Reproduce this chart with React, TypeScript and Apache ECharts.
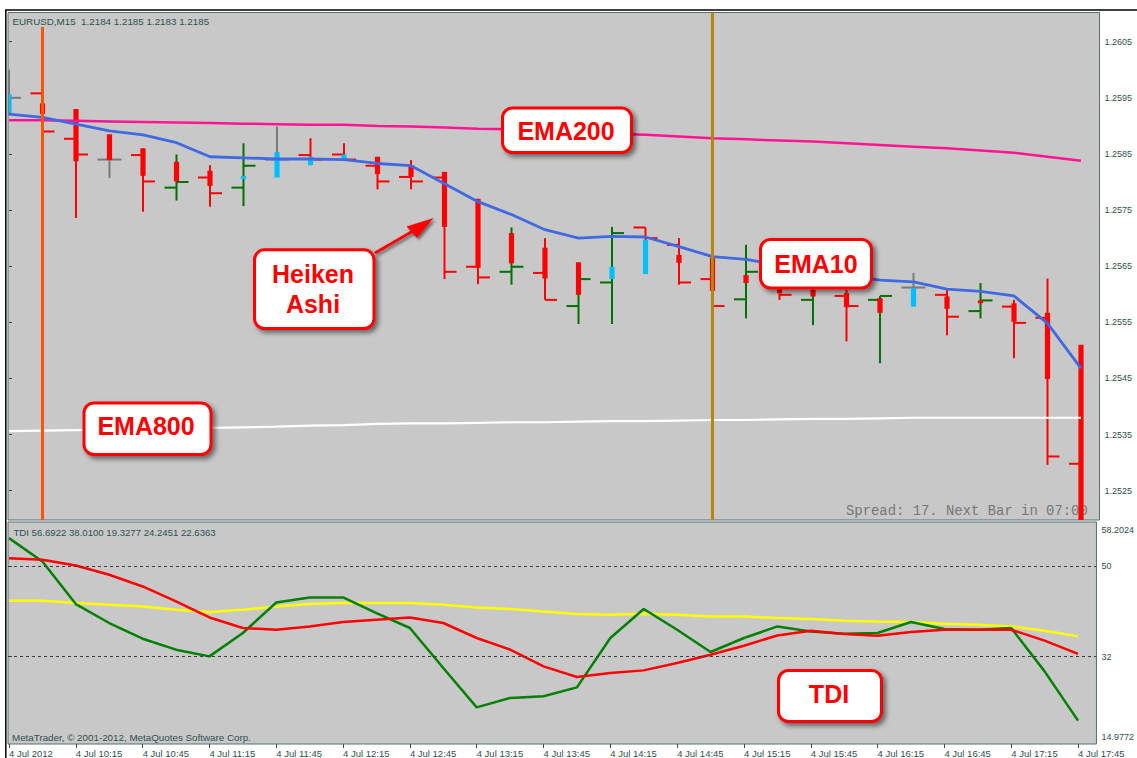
import React, { useEffect, useRef } from 'react';
import * as echarts from 'echarts';

// ---- categories (15-minute bars, 4 Jul 2012) ----
const times = [
  '09:45', '10:00', '10:15', '10:30', '10:45', '11:00', '11:15', '11:30', '11:45', '12:00',
  '12:15', '12:30', '12:45', '13:00', '13:15', '13:30', '13:45', '14:00', '14:15', '14:30',
  '14:45', '15:00', '15:15', '15:30', '15:45', '16:00', '16:15', '16:30', '16:45', '17:00',
  '17:15', '17:30', '17:45',
];

// ---- OHLC bars ----
const barOpen = [
  1.25950, 1.25958, 1.25877, 1.25840, 1.25848, 1.25790, 1.25808, 1.25790, 1.25840, 1.25848,
  1.25849, 1.25829, 1.25809, 1.25808, 1.25649, 1.25640, 1.25638, 1.25579, 1.25621, 1.25719,
  1.25688, 1.25627, 1.25591, 1.25617, 1.25590, 1.25597, 1.25590, 1.25612, 1.25599, 1.25570,
  1.25578, 1.25558, 1.25298,
];
const barHigh = [
  1.26000, 1.25958, 1.25930, 1.25860, 1.25860, 1.25849, 1.25830, 1.25869, 1.25899, 1.25878,
  1.25869, 1.25845, 1.25839, 1.25818, 1.25770, 1.25719, 1.25700, 1.25640, 1.25720, 1.25719,
  1.25700, 1.25665, 1.25688, 1.25629, 1.25625, 1.25608, 1.25597, 1.25638, 1.25609, 1.25620,
  1.25590, 1.25628, 1.25298,
];
const barLow = [
  1.25919, 1.25876, 1.25736, 1.25807, 1.25747, 1.25767, 1.25756, 1.25757, 1.25830, 1.25830,
  1.25839, 1.25787, 1.25787, 1.25627, 1.25618, 1.25617, 1.25590, 1.25547, 1.25547, 1.25643,
  1.25617, 1.25577, 1.25557, 1.25590, 1.25545, 1.25516, 1.25477, 1.25590, 1.25527, 1.25557,
  1.25486, 1.25296, 1.25162,
];
const barClose = [
  1.25950, 1.25890, 1.25849, 1.25840, 1.25801, 1.25800, 1.25780, 1.25829, 1.25840, 1.25840,
  1.25840, 1.25801, 1.25801, 1.25640, 1.25630, 1.25649, 1.25590, 1.25627, 1.25709, 1.25700,
  1.25621, 1.25579, 1.25640, 1.25599, 1.25614, 1.25579, 1.25597, 1.25612, 1.25560, 1.25589,
  1.25549, 1.25311, 1.25171,
];

// ---- Heiken Ashi bodies ----
const haOpen = [
  1.25923, 1.25940, 1.25930, 1.25885, 1.25860, 1.25836, 1.25820, 1.25805, 1.25808, 1.25830,
  1.25840, 1.25845, 1.25830, 1.25818, 1.25770, 1.25709, 1.25683, 1.25657, 1.25627, 1.25636,
  1.25670, 1.25665, 1.25634, 1.25620, 1.25608, 1.25602, 1.25593, 1.25578, 1.25596, 1.25589,
  1.25584, 1.25567, 1.25510,
];
const haClose = [
  1.25957, 1.25921, 1.25837, 1.25839, 1.25811, 1.25801, 1.25793, 1.25811, 1.25853, 1.25845,
  1.25849, 1.25814, 1.25809, 1.25720, 1.25647, 1.25655, 1.25628, 1.25599, 1.25649, 1.25697,
  1.25656, 1.25606, 1.25620, 1.25602, 1.25596, 1.25577, 1.25567, 1.25611, 1.25574, 1.25584,
  1.25551, 1.25449, 1.25162,
];

// ---- moving averages ----
const ema10 = [
  1.25921, 1.25915, 1.25903, 1.25891, 1.25884, 1.25870, 1.25845, 1.25843, 1.25841, 1.25841,
  1.25840, 1.25833, 1.25829, 1.25797, 1.25765, 1.25742, 1.25715, 1.25700, 1.25703, 1.25702,
  1.25685, 1.25667, 1.25662, 1.25652, 1.25643, 1.25633, 1.25625, 1.25622, 1.25609, 1.25605,
  1.25597, 1.25548, 1.25468,
];
const ema200 = [
  1.25910, 1.25910, 1.25909, 1.25908, 1.25907, 1.25906, 1.25905, 1.25904, 1.25903, 1.25902,
  1.25902, 1.25900, 1.25899, 1.25897, 1.25895, 1.25894, 1.25892, 1.25889, 1.25886, 1.25884,
  1.25881, 1.25878, 1.25876, 1.25874, 1.25872, 1.25869, 1.25866, 1.25863, 1.25860, 1.25856,
  1.25852, 1.25845, 1.25838,
];
const ema800 = [
  1.25356, 1.25357, 1.25358, 1.25359, 1.25360, 1.25361, 1.25362, 1.25363, 1.25364, 1.25366,
  1.25367, 1.25369, 1.25370, 1.25370, 1.25371, 1.25372, 1.25372, 1.25373, 1.25374, 1.25374,
  1.25375, 1.25376, 1.25376, 1.25377, 1.25378, 1.25378, 1.25379, 1.25380, 1.25380, 1.25380,
  1.25380, 1.25380, 1.25380,
];

// ---- TDI ----
const tdiRsi = [
  55.48, 50.85, 42.42, 38.67, 35.56, 33.39, 32.06, 36.69, 42.74, 43.73,
  43.73, 40.64, 37.68, 29.77, 21.97, 23.83, 24.15, 25.93, 35.70, 41.44,
  37.34, 32.93, 35.70, 37.99, 37.01, 36.55, 36.69, 38.86, 37.48, 37.34,
  37.68, 29.09, 19.33,
];
const tdiSignal = [
  51.52, 51.19, 50.06, 48.22, 45.91, 42.94, 39.77, 37.68, 37.34, 37.99,
  38.86, 39.32, 39.77, 38.67, 35.70, 33.39, 30.08, 27.99, 28.78, 29.29,
  30.76, 32.40, 34.18, 36.21, 37.14, 36.49, 36.16, 36.89, 37.34, 37.34,
  37.34, 35.17, 32.54,
];
const tdiBase = [
  43.08, 43.08, 42.62, 42.29, 41.95, 41.30, 40.84, 41.30, 41.95, 42.42,
  42.62, 42.62, 42.62, 42.29, 41.75, 41.44, 40.96, 40.45, 40.31, 40.51,
  40.31, 39.97, 39.97, 39.66, 39.46, 39.12, 38.98, 38.86, 38.53, 38.33,
  37.99, 37.14, 36.02,
];

// ---- axis ticks ----
const priceTicks = [1.2525, 1.2535, 1.2545, 1.2555, 1.2565, 1.2575, 1.2585, 1.2595, 1.2605];
const tdiLabelValues = [14.9772, 32, 50, 58.2024];
const tdiLevels = [50, 32];
const timeTickIdx = [0, 2, 4, 6, 8, 10, 12, 14, 16, 18, 20, 22, 24, 26, 28, 30, 32];
const vLineIdx = [1, 21];

// ---- texts ----
const chartTitle = 'EURUSD,M15  1.2184 1.2185 1.2183 1.2185';
const tdiTitle = 'TDI 56.6922 38.0100 19.3277 24.2451 22.6363';
const copyright = 'MetaTrader, \u00A9 2001-2012, MetaQuotes Software Corp.';
const spreadText = 'Spread: 17. Next Bar in 07:00';

const SLATE = '#2F4F4F';
const BORDER = '#56706f';
const BG = '#C8C8C8';
const SANS = '"Liberation Sans", Arial, sans-serif';
const PRICE_MIN = 1.251978;
const PRICE_MAX = 1.26102;

export default function App() {
  const ref = useRef<HTMLDivElement>(null);

  useEffect(() => {
    if (!ref.current) return;
    const chart = echarts.init(ref.current, null, { renderer: 'svg' });

    const ohlcData = times.map((_, i) => [i, barOpen[i], barHigh[i], barLow[i], barClose[i]]);
    const haData = times.map((_, i) => [i, haOpen[i], haClose[i]]);
    const line = (arr: number[]) => arr.map((v, i) => [i, v]);

    const box = (x: number, y: number, w: number, h: number) => ({
      type: 'rect',
      z: 100,
      shape: { x, y, width: w, height: h, r: 10 },
      style: {
        fill: '#ffffff',
        stroke: '#FF0000',
        lineWidth: 3,
        shadowBlur: 5,
        shadowOffsetX: 3,
        shadowOffsetY: 3,
        shadowColor: 'rgba(0,0,0,0.5)',
      },
    });
    const boxText = (x: number, y: number, text: string) => ({
      type: 'text',
      z: 101,
      x,
      y,
      style: {
        text,
        fill: '#FF0000',
        font: 'bold 25px ' + SANS,
        align: 'center',
        verticalAlign: 'middle',
        textAlign: 'center',
        textVerticalAlign: 'middle',
      },
    });
    const plainText = (x: number, y: number, text: string, font: string, color: string) => ({
      type: 'text',
      z: 1,
      x,
      y,
      style: {
        text,
        fill: color,
        font,
        align: 'left',
        verticalAlign: 'middle',
        textAlign: 'left',
        textVerticalAlign: 'middle',
      },
    });

    const option: any = {
      animation: false,
      backgroundColor: '#ffffff',
      grid: [
        {
          left: 8, top: 12.5, width: 1091.5, height: 507.5,
          show: true, backgroundColor: BG, borderColor: BORDER, borderWidth: 1,
        },
        {
          left: 8, top: 522, width: 1091.5, height: 223,
          show: true, backgroundColor: BG, borderColor: BORDER, borderWidth: 1,
        },
      ],
      xAxis: [
        {
          type: 'value', gridIndex: 0, min: -0.02985, max: 32.552,
          axisLine: { show: false }, axisTick: { show: false },
          axisLabel: { show: false }, splitLine: { show: false },
        },
        {
          type: 'value', gridIndex: 1, min: -0.02985, max: 32.552, position: 'bottom',
          axisLine: { show: false },
          splitLine: { show: false },
          axisTick: {
            show: true, customValues: timeTickIdx, length: 4,
            lineStyle: { color: SLATE, width: 1 },
          },
          axisLabel: {
            show: true, customValues: timeTickIdx, align: 'left', margin: 4,
            fontSize: 9.5, fontFamily: SANS, color: SLATE,
            formatter: (v: number) => {
              const i = Math.round(v);
              return i === 0 ? '4 Jul 2012' : '4 Jul ' + times[i];
            },
          },
        },
      ],
      yAxis: [
        {
          type: 'value', gridIndex: 0, position: 'right', min: PRICE_MIN, max: PRICE_MAX,
          axisLine: { show: false }, splitLine: { show: false },
          axisTick: {
            show: true, customValues: priceTicks, length: 3,
            lineStyle: { color: SLATE, width: 1 },
          },
          axisLabel: {
            show: true, customValues: priceTicks, margin: 5,
            fontSize: 9, fontFamily: SANS, color: SLATE,
            formatter: (v: number) => v.toFixed(4),
          },
        },
        {
          type: 'value', gridIndex: 1, position: 'right', min: 14.708, max: 58.675,
          axisLine: { show: false }, splitLine: { show: false },
          axisTick: {
            show: true, customValues: tdiLevels, length: 3,
            lineStyle: { color: SLATE, width: 1 },
          },
          axisLabel: {
            show: true, customValues: tdiLabelValues, margin: 5,
            fontSize: 9, fontFamily: SANS, color: SLATE,
            formatter: (v: number) => {
              if (v > 58) return '{t|' + v.toFixed(4) + '}';
              if (v < 15) return '{b|' + v.toFixed(4) + '}';
              return String(v);
            },
            rich: {
              t: { padding: [11, 0, 0, 0], fontSize: 9, fontFamily: SANS, color: SLATE },
              b: { padding: [0, 0, 11, 0], fontSize: 9, fontFamily: SANS, color: SLATE },
            },
          },
        },
      ],
      series: [
        {
          name: 'Bars', type: 'custom', xAxisIndex: 0, yAxisIndex: 0,
          data: ohlcData,
          markLine: {
            silent: true, symbol: ['none', 'none'], label: { show: false },
            data: [
              [
                { coord: [vLineIdx[0], 1.26076], lineStyle: { color: '#FF5500', width: 3, type: 'solid' } },
                { coord: [vLineIdx[0], PRICE_MIN] },
              ],
              { xAxis: vLineIdx[1], lineStyle: { color: '#B8860B', width: 3, type: 'solid' } },
            ],
          },
          renderItem: (params: any, api: any) => {
            const k = api.value(0);
            const o = api.value(1);
            const h = api.value(2);
            const l = api.value(3);
            const c = api.value(4);
            const cs = params.coordSys;
            const top = cs.y;
            const bot = cs.y + cs.height;
            const left = cs.x;
            const cl = (y: number) => Math.max(top, Math.min(bot, y));
            const pO = api.coord([k, o]);
            const pH = api.coord([k, h]);
            const pL = api.coord([k, l]);
            const pC = api.coord([k, c]);
            const x = pO[0];
            const color = c > o ? '#007000' : c < o ? '#FF0000' : '#7A7A7A';
            const st = { stroke: color, lineWidth: 2 };
            const children: any[] = [
              { type: 'line', shape: { x1: x, y1: cl(pH[1]), x2: x, y2: cl(pL[1]) }, style: st },
            ];
            if (pO[1] >= top && pO[1] <= bot && x - 12 >= left) {
              children.push({ type: 'line', shape: { x1: x - 12, y1: pO[1], x2: x, y2: pO[1] }, style: st });
            }
            if (pC[1] >= top && pC[1] <= bot) {
              children.push({ type: 'line', shape: { x1: x, y1: pC[1], x2: x + 12, y2: pC[1] }, style: st });
            }
            return { type: 'group', children };
          },
        },
        {
          name: 'HeikenAshi', type: 'custom', xAxisIndex: 0, yAxisIndex: 0,
          data: haData,
          renderItem: (params: any, api: any) => {
            const k = api.value(0);
            const o = api.value(1);
            const c = api.value(2);
            const cs = params.coordSys;
            const top = cs.y;
            const bot = cs.y + cs.height;
            const p1 = api.coord([k, o]);
            const p2 = api.coord([k, c]);
            const y1 = Math.max(top, Math.min(bot, Math.min(p1[1], p2[1])));
            const y2 = Math.max(top, Math.min(bot, Math.max(p1[1], p2[1])));
            const w = 5.2;
            const x1 = Math.max(cs.x + 1, p1[0] - w / 2);
            const x2 = p1[0] + w / 2;
            return {
              type: 'rect',
              shape: { x: x1, y: y1, width: x2 - x1, height: Math.max(1.5, y2 - y1) },
              style: { fill: c > o ? '#00BFFF' : '#FF0000' },
            };
          },
        },
        {
          name: 'EMA800', type: 'line', xAxisIndex: 0, yAxisIndex: 0,
          data: line(ema800), showSymbol: false, symbol: 'none',
          lineStyle: { color: '#FFFFFF', width: 2.2 },
        },
        {
          name: 'EMA200', type: 'line', xAxisIndex: 0, yAxisIndex: 0,
          data: line(ema200), showSymbol: false, symbol: 'none',
          lineStyle: { color: '#FF1493', width: 2.5 },
        },
        {
          name: 'EMA10', type: 'line', xAxisIndex: 0, yAxisIndex: 0,
          data: line(ema10), showSymbol: false, symbol: 'none',
          lineStyle: { color: '#4169E1', width: 2.8 },
        },
        {
          name: 'TDI Base', type: 'line', xAxisIndex: 1, yAxisIndex: 1,
          data: line(tdiBase), showSymbol: false, symbol: 'none',
          lineStyle: { color: '#FFFF00', width: 2.5 },
          markLine: {
            silent: true, symbol: ['none', 'none'], label: { show: false },
            lineStyle: { color: '#3C3C3C', width: 1, type: [3, 3] },
            data: tdiLevels.map((v) => ({ yAxis: v })),
          },
        },
        {
          name: 'TDI RSI', type: 'line', xAxisIndex: 1, yAxisIndex: 1,
          data: line(tdiRsi), showSymbol: false, symbol: 'none',
          lineStyle: { color: '#008000', width: 2.5 },
        },
        {
          name: 'TDI Signal', type: 'line', xAxisIndex: 1, yAxisIndex: 1,
          data: line(tdiSignal), showSymbol: false, symbol: 'none',
          lineStyle: { color: '#FF0000', width: 2.5 },
        },
      ],
      graphic: [
        // window frame
        { type: 'line', z: 10, shape: { x1: 5, y1: 10, x2: 1137, y2: 10 }, style: { stroke: '#000', lineWidth: 1.5 } },
        { type: 'line', z: 10, shape: { x1: 5.8, y1: 10, x2: 5.8, y2: 758 }, style: { stroke: '#000', lineWidth: 1.5 } },
        // info texts
        plainText(12.5, 21, chartTitle, '9.8px ' + SANS, SLATE),
        plainText(13.5, 532.5, tdiTitle, '9.6px ' + SANS, SLATE),
        plainText(12, 737, copyright, '9.8px ' + SANS, SLATE),
        plainText(846, 511, spreadText, '13.9px "Liberation Mono", "Courier New", monospace', '#777777'),
        // arrow
        {
          type: 'line', z: 99,
          shape: { x1: 375, y1: 253, x2: 413, y2: 231 },
          style: { stroke: '#FF0000', lineWidth: 3, shadowBlur: 3, shadowOffsetX: 2, shadowOffsetY: 2, shadowColor: 'rgba(0,0,0,0.5)' },
        },
        {
          type: 'polygon', z: 99,
          shape: { points: [[433.5, 218], [406.5, 226.5], [417, 238]] },
          style: { fill: '#FF0000', shadowBlur: 3, shadowOffsetX: 2, shadowOffsetY: 2, shadowColor: 'rgba(0,0,0,0.5)' },
        },
        // callouts
        box(502.5, 108, 129, 44.5),
        boxText(566, 131, 'EMA200'),
        box(760.5, 239.5, 111, 48.5),
        boxText(816, 264, 'EMA10'),
        box(254.5, 249.8, 119.5, 78.7),
        boxText(313, 274, 'Heiken'),
        boxText(313, 304, 'Ashi'),
        box(84, 403, 127, 51.5),
        boxText(146, 426, 'EMA800'),
        box(778.5, 670.5, 103, 51),
        boxText(829, 694, 'TDI'),
      ],
    };

    chart.setOption(option);
    return () => chart.dispose();
  }, []);

  return (
    <div
      ref={ref}
      style={{ position: 'fixed', left: 0, top: 0, width: 1137, height: 758, background: '#ffffff' }}
    />
  );
}
